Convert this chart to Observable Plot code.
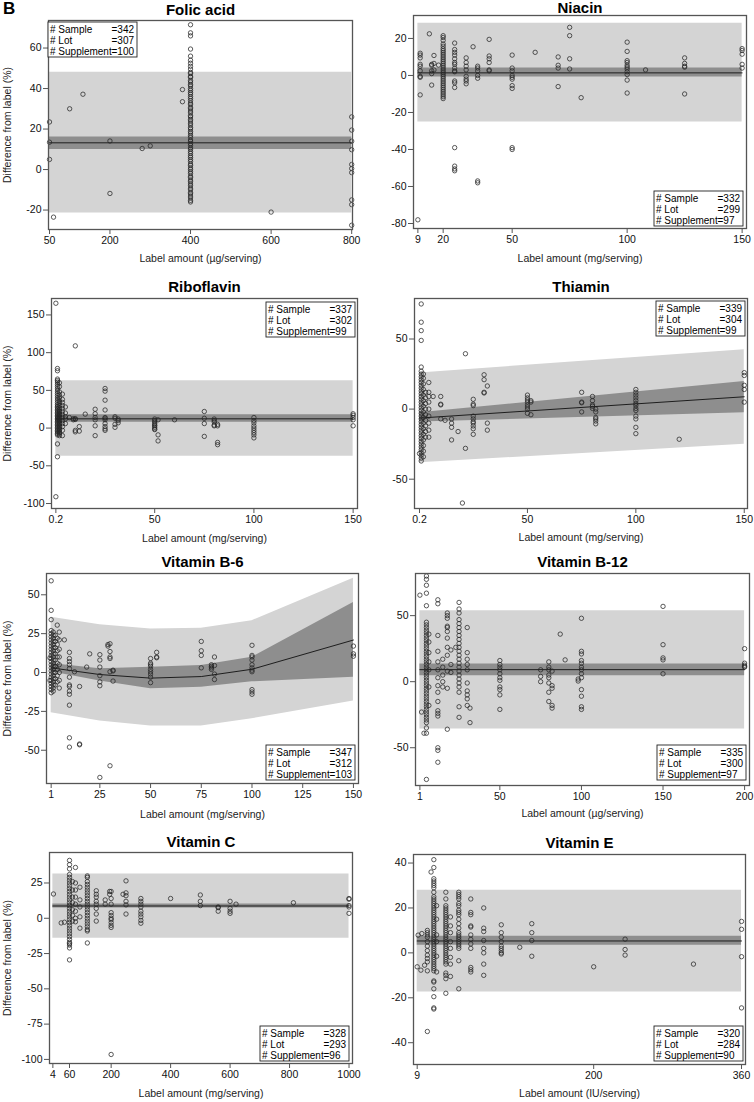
<!DOCTYPE html>
<html><head><meta charset="utf-8">
<script src="https://cdn.jsdelivr.net/npm/d3@7"></script>
<script src="https://cdn.jsdelivr.net/npm/@observablehq/plot@0.6"></script>
<style>
body{margin:0;background:#fff;}
#root{position:relative;width:754px;height:1102px;overflow:hidden;font-family:"Liberation Sans",Arial,sans-serif;}
#root svg{position:absolute;}
#B{position:absolute;left:3px;top:0px;font:bold 17px/1 "Liberation Sans",Arial,sans-serif;}
</style></head><body><div id="root"><div id="B">B</div></div>
<script>
const FONT = '"Liberation Sans", Arial, sans-serif';
const yLabelText = "Difference from label (%)";

// ---------- Folic acid ----------
const folicTitle = "Folic acid";
const folicXLabel = "Label amount (µg/serving)";
const folicXTicks = [50, 200, 400, 600, 800];
const folicYTicks = [-20, 0, 20, 40, 60];
const folicCounts = [342, 307, 100];
const folicBandX = [50, 800];
const folicPredLo = [-21.5, -21.5], folicPredHi = [48, 48];
const folicCiLo = [9.9, 9.9], folicCiHi = [16.1, 16.1], folicFit = [13.2, 13.2];
const folicPoints = [
  [50, [23.5, 13.5, 5]], [60, [-23.5]], [100, [30]], [133, [37.2]],
  [200, [14.1, -11.8]], [280, [10.4]], [300, [11.7]], [380, [39.5, 33.5]],
  [400, [-16, -15.2, -14, -13.1, -12, -11.3, -10, -9.2, -8, -7.1, -6, -5.2, -4, -3.3, -2, -1.1, 0, 0.8, 2, 2.7, 4, 4.9, 6, 6.8, 8, 8.9, 10, 10.7, 12, 12.8, 14, 14.6, 16, 16.9, 18, 18.8, 20, 20.7, 22, 22.9, 24, 24.8, 26, 26.6, 28, 28.9, 30, 30.7, 32, 32.8, 34, 35.1, 36, 37.2, 38, 39.1, 40, 41.3, 42, 43.2, 44, 45.5, 46, 47.4, 48, 49.6, 51, 52.5, 54, 56, 59.5, 66, 67.5, 71.5]],
  [600, [-21]],
  [800, [26, 19.5, 14, 9.8, 2.5, 0.5, -1.5, -15, -17.3, -27.5]]
];

// ---------- Niacin ----------
const niacinTitle = "Niacin";
const niacinXLabel = "Label amount (mg/serving)";
const niacinXTicks = [9, 20, 50, 100, 150];
const niacinYTicks = [-80, -60, -40, -20, 0, 20];
const niacinCounts = [332, 299, 97];
const niacinBandX = [9, 150];
const niacinPredLo = [-25.2, -25.2], niacinPredHi = [28.2, 28.2];
const niacinCiLo = [-0.9, -0.9], niacinCiHi = [4, 4], niacinFit = [1.4, 1.4];
const niacinPoints = [
  [9, [-78]], [10, [12, 11, 9.5, 6, 5, 2.5, -0.5, -1, -10.5]],
  [14, [22.5]], [15, [6, 5.5, 2.5, 1, -5.2]], [16, [10.8, 6.5, 3]], [18, [5.6]],
  [20, [21.5, 20.5, 19, 17, 15.8, 14.5, 13.5, 12.5, 11.5, 10.5, 9.5, 8.5, 7.5, 6.5, 5.5, 4.5, 3.5, 2.5, 1.5, 0.5, -0.5, -1.5, -2.5, -3.5, -4.5, -5.5, -6.5, -7.5, -8.5, -9.5, -10.5, -11.5, -12.5]],
  [25, [17.5, 14, 12.5, 11, 9, 7, 6, 4, 2.5, 2, -3, -4, -6.5, -39, -49, -50.5, -51.5]],
  [30, [9.5, 7, 5, 3, -0.5, -2, -3, -4.5]], [33, [15.5]],
  [35, [5, 4, 2.5, 0, -1.5, -57, -58]], [40, [19.5, 10.5, 9, 7, 3, 2.5]],
  [50, [11, 4, 2.5, 0, -1, -2, -5.5, -7, -39, -40]], [60, [12.5]],
  [70, [10, 5.5, 4, -6]], [75, [26, 21.5, 9, 3.5]], [80, [-12]],
  [100, [18, 13, 8, 7, 5.5, 4.5, 3.5, 2, 0.5, -2.5, -9.5]], [108, [3]],
  [125, [9.5, 6.5, 5, 4.5, -10]], [150, [14.5, 13.5, 11.5, 6, 4]]
];

// ---------- Riboflavin ----------
const riboTitle = "Riboflavin";
const riboXLabel = "Label amount (mg/serving)";
const riboXTicks = [0.2, 50, 100, 150];
const riboYTicks = [-100, -50, 0, 50, 100, 150];
const riboCounts = [337, 302, 99];
const riboBandX = [0.2, 150];
const riboPredLo = [-37.4, -37.4], riboPredHi = [62.6, 62.6];
const riboCiLo = [7.9, 7.9], riboCiHi = [17.6, 17.6], riboFit = [12.3, 12.3];
const riboPoints = [
  [0.2, [165.5, -91]],
  [1, [79, 76, 65, 63, 61, 58, 55, 52, 49, 46, 43, 40, 37, 34, 31, 29, 27, 25, 23, 21, 19, 17, 15, 13, 11, 9, 7, 5, 3, 1, -1, -3, -5, -7, -9, -21, -38]],
  [2, [60, 55, 48, 44, 40, 36, 33, 30, 27, 24, 22, 20, 18, 16, 14, 12, 10, 8, 6, 4, 2, 0, -2, -4, -6, -8, -10]],
  [3.5, [45, 38, 34, 30, 26, 22, 18, 14, 10, 6, 2, -3, -10]],
  [5, [28, 20, 15, 12, 6]], [7, [14]], [9, [12.5, 11]],
  [10, [109, 12.5, 11.5, -5, -3]], [12, [2, -4]], [15, [18.5]],
  [20, [25, 19, 14, 11, 3, -10]],
  [25, [52.5, 49, 37, 24, 14, 13, 11, 6, 2, -1, -3]],
  [30, [15, 13, 5, 1]], [31.6, [12, 10, 7]],
  [50, [12, 10, 8, 6, 4, 3, 1, -1, -2]], [51.7, [11, -9, -17]], [60, [11]],
  [75, [22, 13, 6, -11]], [80, [12, 10, 8, 4, 3]], [81.7, [5, 3, -19, -22]],
  [100, [14, 10, 7, 3, 0, -3, -6, -9, -13]], [150, [19, 17, 14, 11, 3]]
];

// ---------- Thiamin ----------
const thiaTitle = "Thiamin";
const thiaXLabel = "Label amount (mg/serving)";
const thiaXTicks = [0.2, 50, 100, 150];
const thiaYTicks = [-50, 0, 50];
const thiaCounts = [339, 304, 99];
const thiaBandX = [0.2, 150];
const thiaPredLo = [-38.2, -25.1], thiaPredHi = [25.8, 42.4];
const thiaCiLo = [-9.2, -2.6], thiaCiHi = [-2.6, 19.7], thiaFit = [-6.4, 8.8];
const thiaPoints = [
  [0.2, [-31.7]],
  [1, [75, 62, 56, 49, 30, 27, 25, 23, 21, 19, 17, 15, 13, 11, 9, 7, 5, 3, 1, -1, -3, -5, -7, -9, -11, -13, -15, -17, -19, -21, -23, -25, -27, -29, -31, -33, -35, -37]],
  [2, [25, 22, 18, 14, 10, 6, 2, -2, -6, -10, -14, -18, -22, -26, -30, -34]],
  [3, [12, 8, 4, 0, -4, -8, -12, -16, -20]],
  [4.5, [19, 12, 9, 5, 0, -5, -10, -15, -20]], [6.5, [9]],
  [10, [9, 3.5, 3, -7]], [12, [-8]], [15, [-7, -10, -13, -22]], [18, [-16]],
  [20, [-67]], [21.4, [39.5, -28]],
  [25, [7, 3.5, 2.5, -5, -7, -9, -10, -12, -14, -18]],
  [30, [24.5, 21, 12, 11.5]], [31.5, [16.5, -10, -15]],
  [50, [10, 8, 6.5, 5, 3, 1.5, 0, -3]], [51.6, [6, 5, -4]],
  [75, [12, 5, 4.5, -2]], [80, [9, 6, 3, 2, 0.5]], [81.5, [0, -2, -6, -7, -8.5, -10.5]],
  [100, [14, 12, 10, 8, 6, 4, 2.5, 0.5, -1, -5, -7, -13, -17.5]],
  [120, [-21.5]], [150, [26, 24, 17, 14, 5]]
];

// ---------- Vitamin B-6 ----------
const b6Title = "Vitamin B-6";
const b6XLabel = "Label amount (mg/serving)";
const b6XTicks = [1, 25, 50, 75, 100, 125, 150];
const b6YTicks = [-50, -25, 0, 25, 50];
const b6Counts = [347, 312, 103];
const b6BandX = [1, 25, 50, 75, 100, 150];
const b6PredLo = [-25.9, -31.2, -34.4, -34.4, -29.7, -18.4];
const b6PredHi = [35.5, 30.8, 28, 28.5, 33.3, 60.7];
const b6CiLo = [0.5, -5.5, -10.5, -9.5, -6, -3];
const b6CiHi = [5.8, 2.5, 3.4, 4.5, 9.8, 45];
const b6Fit = [3, -1.3, -3.6, -2.6, 2.1, 20.9];
const b6Points = [
  [0.4, [9.4, -5.1]],
  [1, [59, 40, 34, 27, 25, 23, 21, 19, 17, 15, 13, 11, 9, 7, 5, 3, 1, -1, -3, -5, -7, -9, -11, -13]],
  [2, [26, 24, 22, 20, 18, 16, 14, 12, 10, 8, 6, 4, 2, 0, -2, -4, -6, -8, -10, -12]],
  [3, [24, 20, 16, 12, 8, 4, 0, -4, -8]],
  [4, [30.5, 22, 18, 14, 10, 6, 2, -2, -6]],
  [5, [26, 21, 15, 10, 5, 0, -5, -10]], [7.5, [21]],
  [10, [13, 9, 7, 5, 2.5, -3, -8, -9, -12, -14, -21, -42, -48]],
  [12.5, [0.5]], [15, [-9, -46, -46.5]], [18.5, [3.5]], [20, [12]],
  [25, [11.5, 8, 3.5, -2, -6, -8.5, -67.5]], [29, [18, 17]],
  [30, [18.5, 13.5, 10, 9, 0.5, -60]], [31.5, [1, 1.5, -5.5]],
  [50, [9, 6, 5, 4, 2, 0.5, -1, -3, -6.5]], [53, [13, 10, 9.5]],
  [75, [20, 14, 11, 3]], [80, [5, 4, 3, 2]], [81.5, [10, 4.5, -1, -4.5]],
  [100, [17.5, 11, 10, 8, 5, 3, 1.5, 0.5, -11, -12.5, -14]],
  [150, [17, 12, 10.5]]
];

// ---------- Vitamin B-12 ----------
const b12Title = "Vitamin B-12";
const b12XLabel = "Label amount (µg/serving)";
const b12XTicks = [1, 50, 100, 150, 200];
const b12YTicks = [-50, 0, 50];
const b12Counts = [335, 300, 97];
const b12BandX = [1, 200];
const b12PredLo = [-35.8, -35.8], b12PredHi = [53.7, 53.7];
const b12CiLo = [4.5, 4.5], b12CiHi = [13.4, 13.4], b12Fit = [9.1, 9.1];
const b12Points = [
  [1, [65.5]], [2, [-23]], [3.5, [-39]],
  [5, [80, 77.5, 73, 67, 57.5, 45, 43, 41, 39, 37, 35, 33, 31, 29, 27, 25, 23, 21, 19, 17, 15, 13, 11, 9, 7, 5, 3, 1, -1, -3, -5, -7, -9, -11, -13, -15, -17, -19, -21, -23, -25, -27, -29, -31, -35, -39, -74]],
  [6.5, [36, 30, 22, 15, 9, -4, -18]],
  [12, [62, 59, 35, 23, 15, 9, 3, -3, -8, -15, -22, -24, -26, -50, -52, -61]],
  [15, [17, 11, 5, 0, -4]],
  [17.8, [52, 50, 48, 42, 41, 38, 33, 26, 20, 8, -5, -36]],
  [20, [24, 13, 7]], [23, [26]],
  [25, [60, 55, 52, 47, 44, 41, 38, 35, 32, 29, 26, 23, 20, 17, 14, 11, 8, 5, 2, -1, -4, -8, -19, -27]],
  [30, [41, 22, 17, 13, 9, -1, -7, -10, -13, -18]], [31.7, [-20, -31]],
  [50, [16, 13, 11, 9, 6, 3, 1, -4, -6, -10, -21]],
  [75, [9, 4, 0]], [80, [15, 11, 9, 5, 3, -1, -8, -15]], [82, [8, -3, -5, -18, -20]],
  [87, [36]], [90, [16.5]], [98, [0.5, 2]],
  [100, [48, 23, 21, 16, 14, 11, 9, 6, 3, -6, -11, -19, -21]],
  [150, [57, 28, 18, 16.5, 6]], [200, [25, 14, 12.5, 11.5, 11]]
];

// ---------- Vitamin C ----------
const cTitle = "Vitamin C";
const cXLabel = "Label amount (mg/serving)";
const cXTicks = [4, 60, 200, 400, 600, 800, 1000];
const cYTicks = [-100, -75, -50, -25, 0, 25];
const cCounts = [328, 293, 96];
const cBandX = [4, 1000];
const cPredLo = [-14.1, -14.1], cPredHi = [31.3, 31.3];
const cCiLo = [7.3, 7.3], cCiHi = [10.1, 10.1], cFit = [8.7, 8.7];
const cPoints = [
  [6, [17.2]], [32, [-3.3]], [43, [-2.8]],
  [60, [41, 38, 35, 31, 29, 27, 25, 23, 21, 19, 17, 15, 13, 11, 9, 7, 5, 3, 1, -1, -3, -5, -7, -9, -11, -13, -15, -17, -18, -19, -21, -29.5]],
  [70, [26, 20, 15, 11, 6, 2, -2]],
  [80, [36, 25, 20, 15, 10, 5, 0, -2.5]],
  [95, [22, 13, 8, 1, -7]],
  [120, [30, 29, 26, 24, 22, 20, 18, 16, 14, 12, 10, 8, 6, 4, 2, 0, -2, -4, -6, -8, -9, -17.5]],
  [150, [19.5, 17, 15, 12, 10, 7, 3, -2]], [180, [13, 10]], [195, [19, 17]],
  [200, [19, 14, 10, 4, 2, 0, -1, -3, -5, -6.5, -96.5]], [240, [17]],
  [250, [26.5, 18, 16, 12, 9.5, 3]],
  [300, [14, 12, 10, 8, 5, 3, 1, -1.5, -3.5]], [400, [14]],
  [500, [16.5, 12, 9]], [560, [8, 7.5, 5]], [600, [12, 7, 5, 3.5]], [620, [10]],
  [813, [11]], [1000, [14, 13.5, 9, 8, 3.5]]
];

// ---------- Vitamin E ----------
const eTitle = "Vitamin E";
const eXLabel = "Label amount (IU/serving)";
const eXTicks = [9, 200, 360];
const eYTicks = [-40, -20, 0, 20, 40];
const eCounts = [320, 284, 90];
const eBandX = [9, 360];
const ePredLo = [-17.4, -17.4], ePredHi = [27.9, 27.9];
const eCiLo = [3.4, 3.4], eCiHi = [7.4, 7.4], eFit = [5.3, 5.3];
const ePoints = [
  [9, [-6.2]], [10, [7.9]], [13, [-7.7]], [14, [8.6]], [17, [-5.5]],
  [20, [10, 9, 8, 7, 5, 3, 1, -1, -2.5, -4, -8, -35]], [24, [36]],
  [27, [41.5, 38, 33, 32, 31, 30, 29, 27, 25, 24, 23, 22, 21, 20, 19, 18, 17, 16, 15, 14, 13, 12, 11, 10, 9, 8, 7, 6, 5, 4, 3, 2, 1, 0, -1, -2, -3, -4, -5, -6, -7, -8, -12.5, -13, -16, -19.5, -24.5, -25]],
  [30, [21, 15, 8, 5, -1.5, -8.5]],
  [40, [27, 24, 21, 20, 19, 18, 17, 16, 15, 14, 13, 12, 11, 10, 9, 8, 7, 6, 5, 4, 3, 2, 1, 0, -1, -2, -3, -4, -5, -9, -10, -11.5, -18]],
  [45, [16, 12, 9, 5, 2, -2, -5, -10.5]],
  [54, [27, 26, 25, 24, 22, 21, 19, 18, 17, 15, 13, 11, 9, 8, 7, 6, 5, 4, 3, 2, -3.5, -16]],
  [67, [24, 18, 17, 12, 11.5, 8, 6, 4, 2, -6.5, -7.5, -8.5]],
  [81, [20, 11, 9.5, 5.5, 2, 0, -5, -10]],
  [100, [12.5, 9, 7, 5, 3, 2, 1, 0, -0.5]], [120, [2.5]],
  [133, [13, 9, 5.5, -1.5]], [200, [-6.2]], [234, [6.1, 1.5, -1]],
  [308, [-5]], [360, [14, 10.5, -1.7, -24.5]]
];

// ---------- layout ----------
const panels = [
  {col:0, top:0,   h:275, mL:48, mR:25, mT:20, mB:46, titleDy:-10.5, xlabDy:29, ylab:true,
   xDomain:[47.5, 802], yDomain:[-29.6, 73.6], title:folicTitle, xlabel:folicXLabel, xTicks:folicXTicks, yTicks:folicYTicks,
   counts:folicCounts, corner:"tl", ox:0, oy:2, bandX:folicBandX, predLo:folicPredLo, predHi:folicPredHi, ciLo:folicCiLo, ciHi:folicCiHi, fit:folicFit, points:folicPoints},
  {col:1, top:0,   h:275, mL:36, mR:8, mT:15, mB:47, titleDy:-7.5, xlabDy:30, ylab:false,
   xDomain:[7.1, 151.9], yDomain:[-82.7, 32.4], title:niacinTitle, xlabel:niacinXLabel, xTicks:niacinXTicks, yTicks:niacinYTicks,
   counts:niacinCounts, corner:"br", ox:3, oy:2, bandX:niacinBandX, predLo:niacinPredLo, predHi:niacinPredHi, ciLo:niacinCiLo, ciHi:niacinCiHi, fit:niacinFit, points:niacinPoints},
  {col:0, top:275, h:275, mL:51, mR:20, mT:23, mB:42, titleDy:-11, xlabDy:30, ylab:true,
   xDomain:[-2, 152.2], yDomain:[-106.6, 171.8], title:riboTitle, xlabel:riboXLabel, xTicks:riboXTicks, yTicks:riboYTicks,
   counts:riboCounts, corner:"tr", ox:2, oy:4, bandX:riboBandX, predLo:riboPredLo, predHi:riboPredHi, ciLo:riboCiLo, ciHi:riboCiHi, fit:riboFit, points:riboPoints},
  {col:1, top:275, h:275, mL:37, mR:7, mT:23, mB:42, titleDy:-11, xlabDy:29, ylab:false,
   xDomain:[-2.1, 151.5], yDomain:[-70.9, 78.9], title:thiaTitle, xlabel:thiaXLabel, xTicks:thiaXTicks, yTicks:thiaYTicks,
   counts:thiaCounts, corner:"tr", ox:2, oy:3, bandX:thiaBandX, predLo:thiaPredLo, predHi:thiaPredHi, ciLo:thiaCiLo, ciHi:thiaCiHi, fit:thiaFit, points:thiaPoints},
  {col:0, top:550, h:275, mL:46, mR:19, mT:23, mB:42, titleDy:-11, xlabDy:31, ylab:true,
   xDomain:[-1.3, 152.5], yDomain:[-71.4, 63.7], title:b6Title, xlabel:b6XLabel, xTicks:b6XTicks, yTicks:b6YTicks,
   counts:b6Counts, corner:"br", ox:3, oy:3, bandX:b6BandX, predLo:b6PredLo, predHi:b6PredHi, ciLo:b6CiLo, ciHi:b6CiHi, fit:b6Fit, points:b6Points},
  {col:1, top:550, h:275, mL:38, mR:5, mT:23, mB:40, titleDy:-11, xlabDy:28, ylab:false,
   xDomain:[-1.7, 203], yDomain:[-78.6, 81.9], title:b12Title, xlabel:b12XLabel, xTicks:b12XTicks, yTicks:b12YTicks,
   counts:b12Counts, corner:"br", ox:3, oy:5, bandX:b12BandX, predLo:b12PredLo, predHi:b12PredHi, ciLo:b12CiLo, ciHi:b12CiHi, fit:b12Fit, points:b12Points},
  {col:0, top:825, h:277, mL:49, mR:25, mT:27, mB:39, titleDy:-10, xlabDy:30, ylab:true,
   xDomain:[-7.3, 1011.7], yDomain:[-102.9, 46.6], title:cTitle, xlabel:cXLabel, xTicks:cXTicks, yTicks:cYTicks,
   counts:cCounts, corner:"br", ox:3, oy:2, bandX:cBandX, predLo:cPredLo, predHi:cPredHi, ciLo:cCiLo, ciHi:cCiHi, fit:cFit, points:cPoints},
  {col:1, top:825, h:277, mL:36, mR:9, mT:29, mB:38, titleDy:-11, xlabDy:29, ylab:false,
   xDomain:[5, 364.3], yDomain:[-49.7, 43.8], title:eTitle, xlabel:eXLabel, xTicks:eXTicks, yTicks:eYTicks,
   counts:eCounts, corner:"br", ox:2, oy:3, bandX:eBandX, predLo:ePredLo, predHi:ePredHi, ciLo:eCiLo, ciHi:eCiHi, fit:eFit, points:ePoints}
];

function flatten(groups) {
  const out = [];
  for (const [x, ys] of groups) for (const y of ys) out.push({x, y});
  return out;
}

function legendMark(counts, corner, ox, oy) {
  return (index, scales, values, dims) => {
    const {width, height, marginLeft, marginRight, marginTop, marginBottom} = dims;
    const W = 89, H = 35;
    let x0, y0;
    if (corner === "tl") { x0 = marginLeft + ox; y0 = marginTop + oy; }
    else if (corner === "tr") { x0 = width - marginRight - ox - W; y0 = marginTop + oy; }
    else { x0 = width - marginRight - ox - W; y0 = height - marginBottom - oy - H; }
    const g = d3.create("svg:g");
    g.append("rect").attr("x", x0).attr("y", y0).attr("width", W).attr("height", H)
      .attr("fill", "#fff").attr("stroke", "#222").attr("stroke-width", 0.9);
    const names = ["# Sample", "# Lot", "# Supplement"];
    names.forEach((n, i) => {
      const yy = y0 + 7 + i * 11.3;
      g.append("text").attr("x", x0 + 2).attr("y", yy).attr("dy", "0.35em")
        .attr("text-anchor", "start").attr("font-size", 10).attr("fill", "#000").text(n);
      g.append("text").attr("x", x0 + 2 + 61.5).attr("y", yy).attr("dy", "0.35em")
        .attr("text-anchor", "start").attr("font-size", 10).attr("fill", "#000").text("=" + counts[i]);
    });
    return g.node();
  };
}

const root = document.getElementById("root");
const fmt = d => String(d);

for (const p of panels) {
  const pts = flatten(p.points);
  const marks = [
    Plot.areaY(p.bandX, {x: p.bandX, y1: p.predLo, y2: p.predHi, fill: "#d4d4d4"}),
    Plot.areaY(p.bandX, {x: p.bandX, y1: p.ciLo, y2: p.ciHi, fill: "#8e8e8e"}),
    Plot.line(p.bandX, {x: p.bandX, y: p.fit, stroke: "#111", strokeWidth: 0.9}),
    Plot.dot(pts, {x: "x", y: "y", r: 2.2, stroke: "#262626", strokeWidth: 0.75, fill: "none"}),
    Plot.axisX({ticks: p.xTicks, tickFormat: fmt, tickSize: 5, tickPadding: 2, stroke: "#555", label: null, fontSize: 10.5}),
    Plot.axisY({ticks: p.yTicks, tickFormat: fmt, tickSize: 5, tickPadding: 2, stroke: "#555", label: null, fontSize: 10.5}),
    Plot.frame({stroke: "#555", strokeWidth: 1.3}),
    Plot.text([p.title], {text: d => d, frameAnchor: "top", lineAnchor: "middle", dy: p.titleDy, fontSize: 15, fontWeight: "bold", fill: "#000"}),
    Plot.text([p.xlabel], {text: d => d, frameAnchor: "bottom", lineAnchor: "middle", dy: p.xlabDy, fontSize: 10.5, fill: "#222"}),
    legendMark(p.counts, p.corner, p.ox, p.oy)
  ];
  if (p.ylab) marks.push(Plot.text([yLabelText], {text: d => d, frameAnchor: "left", textAnchor: "middle", lineAnchor: "middle", dx: 7 - p.mL, rotate: -90, fontSize: 10.5, fill: "#222"}));
  const chart = Plot.plot({
    width: 377, height: p.h,
    marginLeft: p.mL, marginRight: p.mR, marginTop: p.mT, marginBottom: p.mB,
    style: {fontFamily: FONT, fontSize: "10.5px", color: "#111", background: "transparent", overflow: "visible"},
    x: {domain: p.xDomain},
    y: {domain: p.yDomain},
    marks
  });
  chart.style.left = (p.col * 377) + "px";
  chart.style.top = p.top + "px";
  root.appendChild(chart);
}
</script></body></html>
